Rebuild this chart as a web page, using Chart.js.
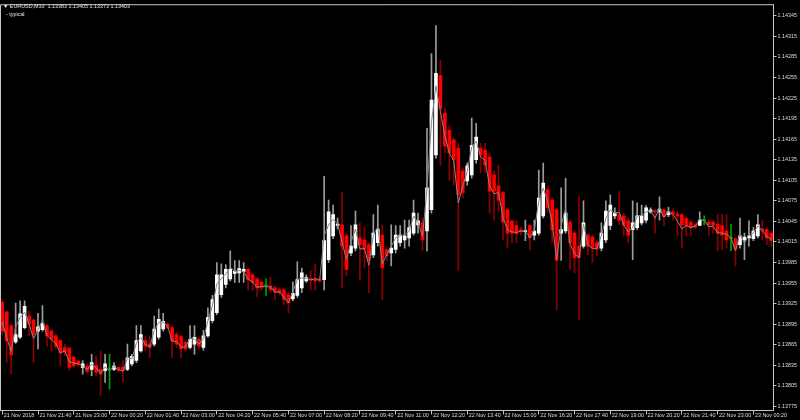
<!DOCTYPE html>
<html>
<head>
<meta charset="utf-8">
<script src="https://cdn.jsdelivr.net/npm/chart.js@4.4.1/dist/chart.umd.min.js"></script>
<style>
    html, body { margin: 0; padding: 0; background: #000; }
    #wrap { position: relative; width: 800px; height: 420px; }
    canvas { display: block; }
    .hdr { position: absolute; font: 5.4px "Liberation Sans", Arial, sans-serif; color: #e6e6e6; white-space: pre; }
</style>
</head>
<body>
<div id="wrap">
    <canvas id="chart" width="800" height="420"></canvas>
    <div class="hdr" style="left:3px;top:3px">▼ EURUSD,M10  1.13383 1.13405 1.13373 1.13403</div>
    <div class="hdr" style="left:6px;top:11px">- typical</div>
</div>
<script>
// EURUSD M10 bars, 21 Nov 20:20 -> 23 Nov 01:00
const openPrices = [
    1.13927, 1.13913, 1.13893, 1.13869, 1.13876, 1.13890, 1.13907, 1.13901, 1.13885, 1.13887,
    1.13893, 1.13885, 1.13878, 1.13871, 1.13861, 1.13860, 1.13847, 1.13841, 1.13832, 1.13834,
    1.13829, 1.13835, 1.13829, 1.13827, 1.13830, 1.13829, 1.13832, 1.13832, 1.13829, 1.13837,
    1.13842, 1.13856, 1.13871, 1.13866, 1.13866, 1.13876, 1.13888, 1.13895, 1.13890, 1.13880,
    1.13877, 1.13868, 1.13861, 1.13866, 1.13873, 1.13861, 1.13878, 1.13900, 1.13912, 1.13938,
    1.13953, 1.13961, 1.13969, 1.13970, 1.13972, 1.13975, 1.13967, 1.13961, 1.13956, 1.13951,
    1.13951, 1.13948, 1.13945, 1.13945, 1.13938, 1.13932, 1.13937, 1.13948, 1.13958, 1.13961,
    1.13961, 1.13961, 1.13960, 1.13989, 1.14024, 1.14039, 1.14040, 1.14024, 1.13999, 1.14006,
    1.14021, 1.14018, 1.14011, 1.13996, 1.14014, 1.14025, 1.14004, 1.13999, 1.14004, 1.14014,
    1.14018, 1.14021, 1.14028, 1.14040, 1.14043, 1.14031, 1.14062, 1.14142, 1.14258, 1.14203,
    1.14178, 1.14164, 1.14152, 1.14119, 1.14104, 1.14113, 1.14135, 1.14152, 1.14149, 1.14139,
    1.14113, 1.14097, 1.14087, 1.14062, 1.14046, 1.14039, 1.14033, 1.14030, 1.14039, 1.14025,
    1.14028, 1.14053, 1.14091, 1.14076, 1.14062, 1.14028, 1.14031, 1.14044, 1.14028, 1.14009,
    1.14009, 1.14025, 1.14022, 1.14014, 1.14006, 1.14018, 1.14039, 1.14053, 1.14055, 1.14053,
    1.14046, 1.14033, 1.14036, 1.14043, 1.14047, 1.14059, 1.14060, 1.14059, 1.14062, 1.14055,
    1.14059, 1.14056, 1.14055, 1.14049, 1.14044, 1.14040, 1.14039, 1.14046, 1.14044, 1.14044,
    1.14041, 1.14039, 1.14031, 1.14020, 1.14020, 1.14011, 1.14018, 1.14021, 1.14020, 1.14024,
    1.14034, 1.14033, 1.14028
];
const highPrices = [
    1.13931, 1.13914, 1.13895, 1.13926, 1.13929, 1.13929, 1.13914, 1.13903, 1.13911, 1.13922,
    1.13895, 1.13888, 1.13880, 1.13872, 1.13866, 1.13861, 1.13849, 1.13843, 1.13842, 1.13837,
    1.13851, 1.13849, 1.13856, 1.13851, 1.13851, 1.13839, 1.13833, 1.13842, 1.13866, 1.13851,
    1.13893, 1.13893, 1.13878, 1.13878, 1.13907, 1.13917, 1.13911, 1.13897, 1.13893, 1.13883,
    1.13879, 1.13871, 1.13893, 1.13893, 1.13876, 1.13886, 1.13919, 1.13937, 1.13985, 1.13983,
    1.13982, 1.14002, 1.13988, 1.13988, 1.13985, 1.13977, 1.13970, 1.13963, 1.13958, 1.13961,
    1.13963, 1.13951, 1.13948, 1.13948, 1.13941, 1.13957, 1.13986, 1.13977, 1.13967, 1.13973,
    1.13982, 1.13964, 1.14111, 1.14076, 1.14069, 1.14050, 1.14087, 1.14028, 1.14039, 1.14060,
    1.14043, 1.14036, 1.14014, 1.14055, 1.14069, 1.14040, 1.14008, 1.14040, 1.14039, 1.14039,
    1.14047, 1.14047, 1.14076, 1.14057, 1.14050, 1.14181, 1.14290, 1.14331, 1.14280, 1.14210,
    1.14185, 1.14167, 1.14159, 1.14123, 1.14130, 1.14196, 1.14188, 1.14159, 1.14159, 1.14145,
    1.14119, 1.14127, 1.14089, 1.14065, 1.14047, 1.14046, 1.14037, 1.14047, 1.14040, 1.14047,
    1.14120, 1.14130, 1.14097, 1.14079, 1.14065, 1.14094, 1.14108, 1.14047, 1.14031, 1.14082,
    1.14075, 1.14028, 1.14025, 1.14018, 1.14043, 1.14075, 1.14084, 1.14065, 1.14089, 1.14057,
    1.14050, 1.14075, 1.14072, 1.14069, 1.14068, 1.14065, 1.14062, 1.14081, 1.14063, 1.14066,
    1.14063, 1.14060, 1.14057, 1.14053, 1.14047, 1.14043, 1.14059, 1.14053, 1.14047, 1.14047,
    1.14055, 1.14055, 1.14055, 1.14041, 1.14021, 1.14050, 1.14028, 1.14046, 1.14036, 1.14055,
    1.14047, 1.14036, 1.14031
];
const lowPrices = [
    1.13880, 1.13839, 1.13822, 1.13867, 1.13874, 1.13888, 1.13878, 1.13839, 1.13859, 1.13885,
    1.13863, 1.13856, 1.13859, 1.13834, 1.13849, 1.13827, 1.13832, 1.13833, 1.13822, 1.13824,
    1.13820, 1.13820, 1.13791, 1.13810, 1.13800, 1.13827, 1.13825, 1.13810, 1.13827, 1.13834,
    1.13839, 1.13854, 1.13856, 1.13846, 1.13863, 1.13873, 1.13885, 1.13888, 1.13846, 1.13861,
    1.13846, 1.13856, 1.13859, 1.13851, 1.13859, 1.13857, 1.13876, 1.13897, 1.13909, 1.13934,
    1.13948, 1.13958, 1.13956, 1.13956, 1.13956, 1.13945, 1.13944, 1.13935, 1.13945, 1.13937,
    1.13941, 1.13931, 1.13938, 1.13924, 1.13912, 1.13929, 1.13934, 1.13941, 1.13956, 1.13945,
    1.13945, 1.13956, 1.13945, 1.13985, 1.14020, 1.14034, 1.13948, 1.13966, 1.13995, 1.14002,
    1.13960, 1.13977, 1.13941, 1.13992, 1.14009, 1.13931, 1.13988, 1.13980, 1.13999, 1.14009,
    1.14006, 1.14009, 1.14025, 1.14028, 1.14002, 1.14002, 1.14057, 1.14137, 1.14127, 1.14145,
    1.14105, 1.14098, 1.13973, 1.14079, 1.14098, 1.14108, 1.14130, 1.14116, 1.14116, 1.14057,
    1.14047, 1.14060, 1.14018, 1.14006, 1.14014, 1.14014, 1.14025, 1.14017, 1.14004, 1.14018,
    1.14025, 1.14050, 1.14060, 1.14014, 1.13916, 1.13988, 1.14028, 1.13975, 1.13970, 1.13902,
    1.14006, 1.13996, 1.13985, 1.13995, 1.14002, 1.14014, 1.14033, 1.14049, 1.14040, 1.14024,
    1.14014, 1.13989, 1.14033, 1.14040, 1.14043, 1.14057, 1.14028, 1.14047, 1.14039, 1.14052,
    1.14047, 1.14024, 1.14006, 1.14024, 1.14025, 1.14034, 1.14039, 1.14040, 1.14025, 1.14028,
    1.14002, 1.14004, 1.14006, 1.14002, 1.13980, 1.14006, 1.13989, 1.14009, 1.14017, 1.14021,
    1.14018, 1.14011, 1.14009
];
const closePrices = [
    1.13885, 1.13871, 1.13850, 1.13880, 1.13910, 1.13921, 1.13895, 1.13880, 1.13891, 1.13896,
    1.13878, 1.13873, 1.13863, 1.13853, 1.13854, 1.13832, 1.13834, 1.13836, 1.13837, 1.13826,
    1.13839, 1.13825, 1.13822, 1.13837, 1.13830, 1.13834, 1.13828, 1.13827, 1.13846, 1.13848,
    1.13871, 1.13880, 1.13863, 1.13861, 1.13888, 1.13902, 1.13899, 1.13890, 1.13871, 1.13866,
    1.13859, 1.13859, 1.13873, 1.13876, 1.13863, 1.13878, 1.13905, 1.13931, 1.13967, 1.13967,
    1.13975, 1.13975, 1.13972, 1.13976, 1.13975, 1.13960, 1.13956, 1.13948, 1.13948, 1.13951,
    1.13945, 1.13942, 1.13941, 1.13931, 1.13926, 1.13940, 1.13960, 1.13970, 1.13963, 1.13960,
    1.13958, 1.13958, 1.14017, 1.14059, 1.14055, 1.14041, 1.14009, 1.13975, 1.14009, 1.14040,
    1.14011, 1.14004, 1.13988, 1.14028, 1.14034, 1.13977, 1.13995, 1.14006, 1.14025, 1.14025,
    1.14024, 1.14036, 1.14057, 1.14046, 1.14018, 1.14094, 1.14222, 1.14261, 1.14210, 1.14155,
    1.14145, 1.14135, 1.14084, 1.14087, 1.14126, 1.14156, 1.14168, 1.14142, 1.14127, 1.14089,
    1.14089, 1.14076, 1.14044, 1.14028, 1.14028, 1.14027, 1.14030, 1.14031, 1.14021, 1.14031,
    1.14079, 1.14101, 1.14065, 1.14033, 1.13988, 1.14033, 1.14057, 1.14014, 1.13992, 1.13992,
    1.14043, 1.14009, 1.14006, 1.14004, 1.14028, 1.14060, 1.14069, 1.14057, 1.14046, 1.14039,
    1.14025, 1.14043, 1.14053, 1.14053, 1.14065, 1.14062, 1.14059, 1.14063, 1.14052, 1.14059,
    1.14056, 1.14053, 1.14040, 1.14039, 1.14036, 1.14037, 1.14047, 1.14046, 1.14040, 1.14039,
    1.14028, 1.14025, 1.14018, 1.14020, 1.14005, 1.14024, 1.14022, 1.14024, 1.14031, 1.14040,
    1.14031, 1.14021, 1.14017
];

// one label every 8 bars (80 minutes)
const timeLabels = [
    "21 Nov 2018", "21 Nov 21:40", "21 Nov 23:00", "22 Nov 00:20", "22 Nov 01:40", "22 Nov 03:00",
    "22 Nov 04:20", "22 Nov 05:40", "22 Nov 07:00", "22 Nov 08:20", "22 Nov 09:40", "22 Nov 11:00",
    "22 Nov 12:20", "22 Nov 13:40", "22 Nov 15:00", "22 Nov 16:20", "22 Nov 17:40", "22 Nov 19:00",
    "22 Nov 20:20", "22 Nov 21:40", "22 Nov 23:00", "23 Nov 00:20"
];
const labelEvery = 8;

const priceTicks = [
    1.13775, 1.13805, 1.13835, 1.13865, 1.13895, 1.13925, 1.13955, 1.13985, 1.14015, 1.14045,
    1.14075, 1.14105, 1.14135, 1.14165, 1.14195, 1.14225, 1.14255, 1.14285, 1.14315, 1.14345
];
const priceMin = 1.13769;
const priceMax = 1.14362;

const UP_BODY = "#ffffff", DOWN_BODY = "#ff0000", DOJI = "#00a000";
const UP_WICK = "#9c9c9c", DOWN_WICK = "#8e0000";
const AXIS = "#c4c4c4", TEXT = "#dedede";
const FONT = { family: "'Liberation Sans', Arial, sans-serif", size: 5.4 };

const barIndex = openPrices.map((_, i) => i);
const bodies = openPrices.map((o, i) => [o, closePrices[i]]);
const wicks = lowPrices.map((l, i) => [l, highPrices[i]]);
// typical price indicator (H+L+C)/3
const typical = closePrices.map((c, i) => (highPrices[i] + lowPrices[i] + c) / 3);

const dir = openPrices.map((o, i) => Math.sign(closePrices[i] - o));
const bodyColors = dir.map(d => d > 0 ? UP_BODY : d < 0 ? DOWN_BODY : DOJI);
const wickColors = dir.map(d => d > 0 ? UP_WICK : d < 0 ? DOWN_WICK : DOJI);

// left and top edges of the chart frame
const framePlugin = {
    id: "frame",
    afterDraw(chart) {
        const { ctx, chartArea: a } = chart;
        ctx.save();
        ctx.strokeStyle = AXIS;
        ctx.lineWidth = 1;
        ctx.beginPath();
        ctx.moveTo(a.left + 0.5, a.bottom);
        ctx.lineTo(a.left + 0.5, a.top + 0.5);
        ctx.lineTo(a.right, a.top + 0.5);
        ctx.stroke();
        ctx.restore();
    }
};

new Chart(document.getElementById("chart"), {
    type: "bar",
    data: {
        labels: barIndex,
        datasets: [
            {
                type: "line",
                label: "typical",
                data: typical,
                borderColor: "#858585",
                borderWidth: 1,
                pointRadius: 0,
                tension: 0,
                order: 0
            },
            {
                label: "body",
                data: bodies,
                backgroundColor: bodyColors,
                barThickness: 3,
                minBarLength: 1,
                grouped: false,
                order: 1
            },
            {
                label: "wick",
                data: wicks,
                backgroundColor: wickColors,
                barThickness: 1,
                grouped: false,
                order: 2
            }
        ]
    },
    options: {
        responsive: false,
        animation: false,
        layout: { padding: { left: 0, top: 0, right: 2, bottom: 3 } },
        plugins: { legend: { display: false }, tooltip: { enabled: false } },
        scales: {
            x: {
                offset: true,
                afterBuildTicks: axis => {
                    axis.ticks = axis.ticks.filter(t => t.value % labelEvery === 0);
                },
                grid: { drawOnChartArea: false, offset: false, tickLength: 4, color: AXIS },
                border: { display: true, color: AXIS },
                ticks: {
                    autoSkip: false,
                    maxRotation: 0,
                    align: "start",
                    labelOffset: 1.5,
                    padding: -2,
                    color: TEXT,
                    font: FONT,
                    callback: v => timeLabels[v / labelEvery]
                }
            },
            y: {
                position: "right",
                min: priceMin,
                max: priceMax,
                afterBuildTicks: axis => {
                    axis.ticks = priceTicks.map(v => ({ value: v }));
                },
                grid: { drawOnChartArea: false, tickLength: 3, color: AXIS },
                border: { display: true, color: AXIS },
                ticks: {
                    padding: 1,
                    color: TEXT,
                    font: FONT,
                    callback: v => v.toFixed(5)
                }
            }
        }
    },
    plugins: [framePlugin]
});
</script>
</body>
</html>
